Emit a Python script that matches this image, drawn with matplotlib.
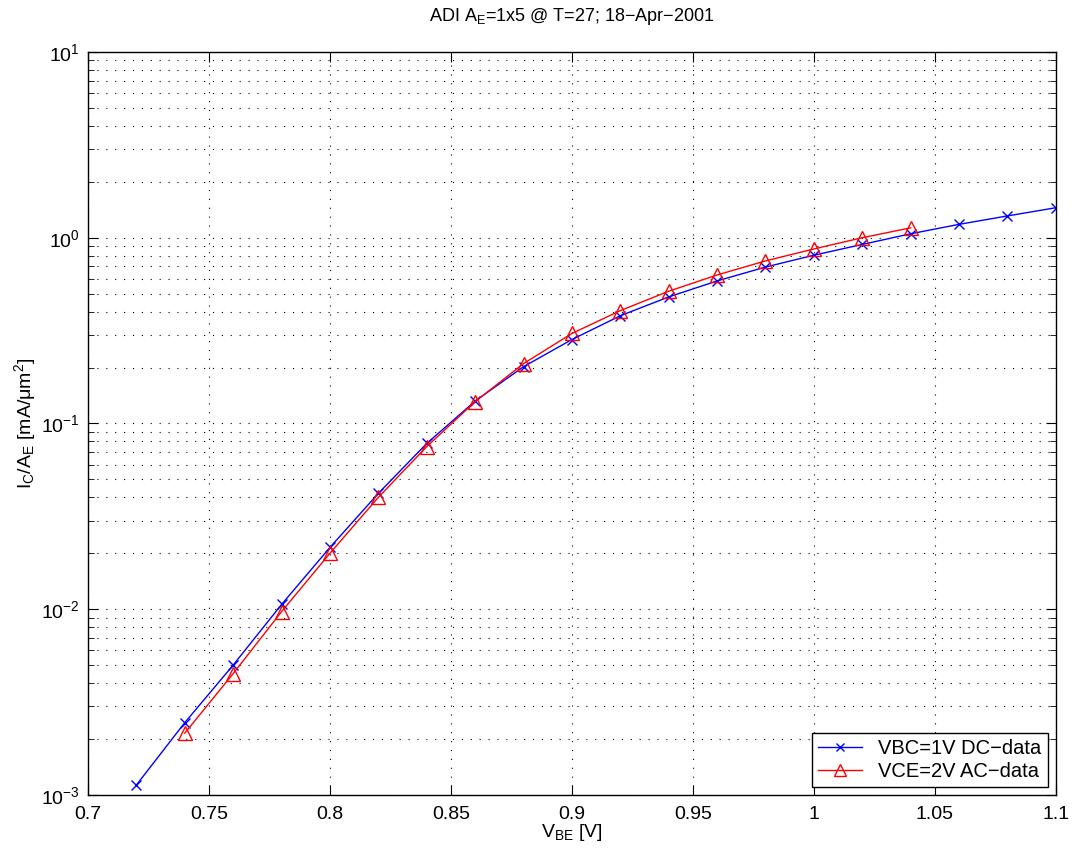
import numpy as np
import matplotlib
matplotlib.use('Agg')
from matplotlib import pyplot as plt
from matplotlib.ticker import LogLocator, NullFormatter

plt.rcParams['font.family'] = ['Liberation Sans', 'DejaVu Sans']
plt.rcParams['mathtext.fontset'] = 'custom'
plt.rcParams['mathtext.rm'] = 'Liberation Sans'
plt.rcParams['mathtext.it'] = 'Liberation Sans'
plt.rcParams['mathtext.default'] = 'regular'

# VBC=1V DC data
vbe_dc = [0.72, 0.74, 0.76, 0.78, 0.80, 0.82, 0.84, 0.86, 0.88, 0.90,
          0.92, 0.94, 0.96, 0.98, 1.00, 1.02, 1.04, 1.06, 1.08, 1.10]
ic_dc = [1.13e-3, 2.45e-3, 5.0e-3, 1.06e-2, 2.15e-2, 4.2e-2, 7.8e-2, 0.132, 0.202, 0.283,
         0.38, 0.48, 0.585, 0.695, 0.805, 0.92, 1.05, 1.18, 1.31, 1.45]

# VCE=2V AC data
vbe_ac = [0.74, 0.76, 0.78, 0.80, 0.82, 0.84, 0.86, 0.88, 0.90,
          0.92, 0.94, 0.96, 0.98, 1.00, 1.02, 1.04]
ic_ac = [2.15e-3, 4.5e-3, 9.7e-3, 2.0e-2, 4.0e-2, 7.5e-2, 0.131, 0.21, 0.305,
         0.405, 0.515, 0.63, 0.75, 0.87, 1.0, 1.13]

xticks = [0.7, 0.75, 0.8, 0.85, 0.9, 0.95, 1.0, 1.05, 1.1]
xticklabels = ['0.7', '0.75', '0.8', '0.85', '0.9', '0.95', '1', '1.05', '1.1']

fig = plt.figure(figsize=(10.73, 8.52), dpi=100)
ax = fig.add_axes([0.082, 0.067, 0.902, 0.872])

ax.semilogy(vbe_dc, ic_dc, color='blue', marker='x', markersize=7, linewidth=1,
            label='VBC=1V DC\u2212data')
ax.semilogy(vbe_ac, ic_ac, color='red', marker='^', markersize=10, markerfacecolor='none',
            linewidth=1, label='VCE=2V AC\u2212data')

ax.set_xlim(0.7, 1.1)
ax.set_ylim(1e-3, 1e1)
ax.set_xticks(xticks)
ax.set_xticklabels(xticklabels)
ax.yaxis.set_major_locator(LogLocator(base=10, numticks=10))
ax.yaxis.set_minor_locator(LogLocator(base=10, subs=np.arange(2, 10), numticks=20))
ax.yaxis.set_minor_formatter(NullFormatter())

ax.grid(True, which='major', linestyle=(0, (1, 7)), color='black', linewidth=0.8)
ax.grid(True, which='minor', axis='y', linestyle=(0, (1, 7)), color='black', linewidth=0.8)

ax.tick_params(which='both', direction='in', top=True, right=True, labelsize=14)
ax.tick_params(which='major', length=7)
ax.tick_params(which='minor', length=4)
ax.tick_params(axis='x', pad=8)
ax.tick_params(axis='y', pad=6)
for s in ax.spines.values():
    s.set_linewidth(1)

ax.set_xlabel('V$_{BE}$ [V]', fontsize=14, labelpad=-1)
ax.set_ylabel('I$_C$/A$_E$ [mA/\u03bcm$^2$]', fontsize=14, labelpad=2)
ax.set_title('ADI A$_E$=1x5 @ T=27; 18\u2212Apr\u22122001', fontsize=13, pad=22)

leg = ax.legend(loc='lower right', fontsize=14.5, fancybox=False, edgecolor='black',
                framealpha=1, borderaxespad=0.4, handlelength=2.2, markerscale=0.8,
                borderpad=0.3, labelspacing=0.2)
leg.get_frame().set_linewidth(1)

fig.savefig('out.png', dpi=100)
